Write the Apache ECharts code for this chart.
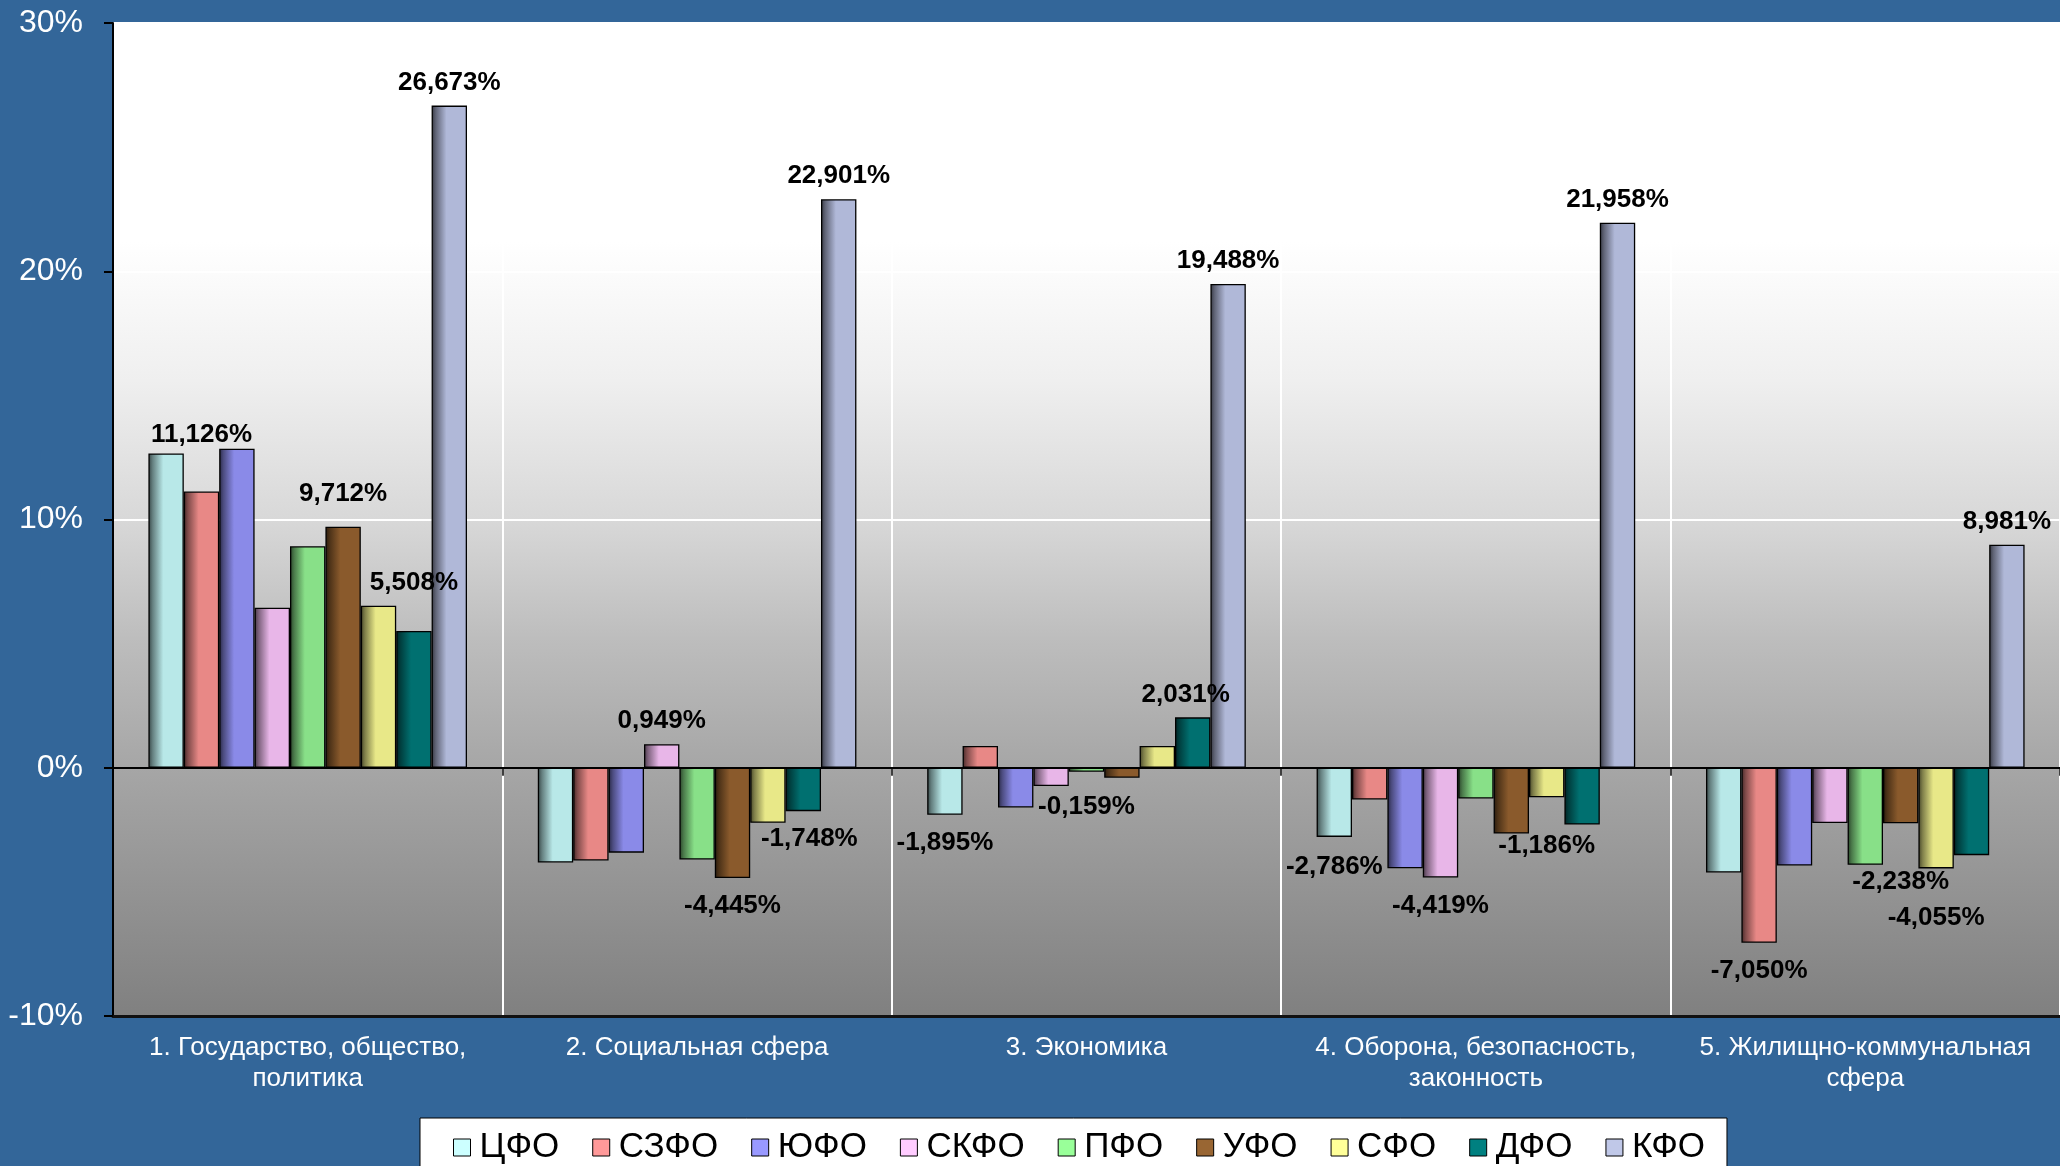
<!DOCTYPE html>
<html>
<head>
<meta charset="utf-8">
<script src="https://cdn.jsdelivr.net/npm/echarts@6/dist/echarts.min.js"></script>
<style>
html,body{margin:0;padding:0;background:#336699;}
#chart{width:2060px;height:1166px;}
</style>
</head>
<body>
<div id="chart"></div>
<script>
// ---- data ----
const categories = [
  '1. Государство, общество,\nполитика',
  '2. Социальная сфера',
  '3. Экономика',
  '4. Оборона, безопасность,\nзаконность',
  '5. Жилищно-коммунальная\nсфера'
];
const seriesNames = ['ЦФО','СЗФО','ЮФО','СКФО','ПФО','УФО','СФО','ДФО','КФО'];
const cfo   = [12.66, -3.82, -1.895, -2.786, -4.22];
const szfo  = [11.126, -3.74, 0.88, -1.28, -7.050];
const yufo  = [12.85, -3.42, -1.60, -4.05, -3.94];
const skfo  = [6.45, 0.949, -0.74, -4.419, -2.23];
const pfo   = [8.92, -3.70, -0.159, -1.24, -3.91];
const ufo   = [9.712, -4.445, -0.40, -2.65, -2.238];
const sfo   = [6.53, -2.22, 0.88, -1.186, -4.055];
const dfo   = [5.508, -1.748, 2.031, -2.29, -3.52];
const kfo   = [26.673, 22.901, 19.488, 21.958, 8.981];
const seriesValues = [cfo, szfo, yufo, skfo, pfo, ufo, sfo, dfo, kfo];
// which categories carry a value label, per series
const labeledPoints = [[2,3],[0,4],[],[1,3],[2],[0,1,4],[3,4],[0,1,2],[0,1,2,3,4]];
const yMin = -10, yMax = 30, yStep = 10;

// ---- style ----
const barColors = ['#b8e8e8','#e88886','#8a8ae8','#e8b6e8','#88e088','#8a5a2c','#e8e888','#007070','#b0b8d8'];
const legendColors = ['#ccffff','#ff9999','#9999ff','#ffccff','#99ff99','#996633','#ffff99','#008080','#c0c8e8'];
// extra label displacement (px) for particular labels: key "series,category"
const labelExtra = {'1,0':34,'7,0':25,'5,0':10,'4,2':7,'6,3':21,'5,4':31,'6,4':21,'0,3':2};
const labelShiftX = {'7,1':6,'7,2':-7};
const FONT = '"Liberation Sans", Arial, sans-serif';

function shade(hex, f){
  const n = parseInt(hex.slice(1),16);
  const r = Math.round(((n>>16)&255)*f), g = Math.round(((n>>8)&255)*f), b = Math.round((n&255)*f);
  return 'rgb('+r+','+g+','+b+')';
}
function barGradient(c){
  return new echarts.graphic.LinearGradient(0,0,1,0,[
    {offset:0,color:shade(c,0.3)},
    {offset:0.12,color:shade(c,0.55)},
    {offset:0.42,color:c},
    {offset:1,color:c}
  ]);
}
const fmt = v => v.toFixed(3).replace('.', ',') + '%';

const series = seriesNames.map((name, s) => ({
  name: name,
  type: 'bar',
  barGap: '0%',
  barCategoryGap: '18.18%',
  itemStyle: {color: barGradient(barColors[s]), borderColor: '#000', borderWidth: 1.3},
  emphasis: {disabled: true},
  data: seriesValues[s].map((v, c) => {
    const key = s + ',' + c;
    const show = labeledPoints[s].indexOf(c) >= 0;
    const extra = labelExtra[key] || 0;
    return {
      value: v,
      label: {
        show: show,
        position: v < 0 ? 'bottom' : 'top',
        distance: (v < 0 ? 15 : 10) + extra,
        offset: [labelShiftX[key] || 0, 0],
        formatter: p => fmt(p.value),
        color: '#000', fontWeight: 'bold', fontSize: 26, fontFamily: FONT
      }
    };
  })
}));

const chart = echarts.init(document.getElementById('chart'));
chart.setOption({
  backgroundColor: '#336699',
  animation: false,
  grid: {
    left: 113, top: 23, width: 1948, height: 993,
    show: true, borderWidth: 0,
    backgroundColor: new echarts.graphic.LinearGradient(0,0,0,1,[
      {offset:0,color:'#ffffff'},
      {offset:0.22,color:'#ffffff'},
      {offset:0.36,color:'#efefef'},
      {offset:0.5,color:'#d8d8d8'},
      {offset:0.62,color:'#bdbdbd'},
      {offset:0.75,color:'#a6a6a6'},
      {offset:1,color:'#808080'}
    ])
  },
  legend: {
    left: 420, top: 1118,
    orient: 'horizontal',
    backgroundColor: '#ffffff',
    borderColor: '#000', borderWidth: 1,
    padding: [12, 22, 20, 33],
    itemWidth: 17, itemHeight: 17, itemGap: 33,
    icon: 'rect',
    textStyle: {color: '#000', fontSize: 35, fontFamily: FONT, padding: [0,0,0,4]},
    data: seriesNames.map((n, i) => ({name: n, itemStyle: {color: legendColors[i], borderColor: '#000', borderWidth: 1}}))
  },
  xAxis: [
    {
      type: 'category', data: categories, position: 'bottom',
      axisLine: {onZero: true, lineStyle: {color: '#000', width: 2}},
      axisTick: {show: true, length: 8, lineStyle: {color: '#000', width: 1.5}},
      axisLabel: {show: false},
      splitLine: {show: true, lineStyle: {color: '#ffffff', width: 2}}
    },
    {
      type: 'category', data: categories, position: 'bottom',
      axisLine: {onZero: false, lineStyle: {color: '#111', width: 3}},
      axisTick: {show: false},
      axisLabel: {color: '#fff', fontSize: 26, lineHeight: 31, margin: 16, interval: 0, fontFamily: FONT},
      splitLine: {show: false}
    }
  ],
  yAxis: {
    type: 'value', min: yMin, max: yMax, interval: yStep,
    axisLine: {show: true, lineStyle: {color: '#000', width: 2}},
    axisTick: {show: true, length: 9, lineStyle: {color: '#000', width: 2}},
    axisLabel: {color: '#fff', fontSize: 32, margin: 30, fontFamily: FONT, formatter: v => v + '%'},
    splitLine: {show: true, lineStyle: {color: '#ffffff', width: 2}}
  },
  series: series
});
</script>
</body>
</html>
